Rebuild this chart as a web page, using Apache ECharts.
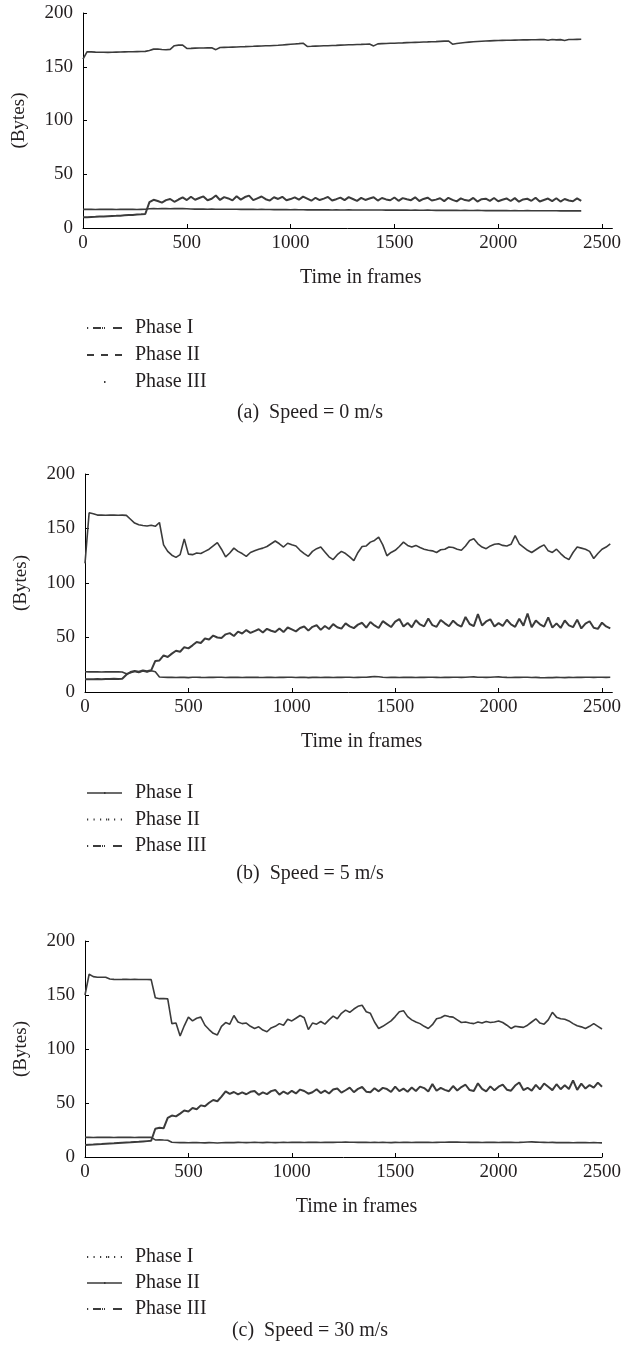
<!DOCTYPE html>
<html>
<head>
<meta charset="utf-8">
<title>Bytes per phase over time</title>
<script src="https://cdn.jsdelivr.net/npm/echarts@6.0.0/dist/echarts.min.js"></script>
<style>
  html, body { margin: 0; padding: 0; background: #fff; }
  #chart { width: 624px; height: 1352px; }
</style>
</head>
<body>
<div id="chart"></div>
<script>
// every series is sampled each STEP frames, starting at frame 0
const STEP = 20;
const phaseNames = ['Phase I', 'Phase II', 'Phase III'];
const xTicks = [0, 500, 1000, 1500, 2000, 2500];

// (a) Speed = 0 m/s, frames 0..2400
const speed0PhaseI = [
  157, 164, 163.8, 163.6, 163.5, 163.5, 163.4, 163.5, 163.6, 163.7, 163.8, 163.9, 164.0, 164.1, 164.2, 164.3,
  165.2, 166.4, 166.5, 166.1, 165.8, 166.2, 169.6, 170.1, 170.1,
  167.0, 167.1, 167.3, 167.4, 167.5, 167.6, 167.7, 165.9, 167.9, 168.0,
  168.1, 168.3, 168.4, 168.6, 168.7, 168.9, 169.0, 169.2, 169.3, 169.5,
  169.6, 169.8, 170.0, 170.3, 170.6, 170.9, 171.2, 171.5, 171.9,
  168.9, 169.0, 169.2, 169.3, 169.5, 169.6, 169.8, 169.9, 170.1, 170.2,
  170.4, 170.5, 170.7, 170.8, 171.0, 171.1, 169.4, 171.3, 171.5, 171.6,
  171.8, 171.9, 172.1, 172.2, 172.4, 172.5, 172.7, 172.8, 173.0, 173.1,
  173.3, 173.4, 173.6, 173.8, 174.0, 171.0, 171.6, 172.1, 172.5, 172.9,
  173.2, 173.5, 173.7, 173.9, 174.1, 174.3, 174.4, 174.5, 174.6, 174.7,
  174.8, 174.9, 175.0, 175.0, 175.1, 175.1, 175.2, 175.3, 174.6, 175.3,
  175.0, 175.2, 174.5, 175.3, 175.4, 175.5, 175.6
];
const speed0PhaseII = [
  17.3, 17.4, 17.3, 17.2, 17.3, 17.4, 17.3, 17.3, 17.2, 17.3, 17.4, 17.3, 17.3, 17.2, 17.3, 17.4,
  17.9, 18.0, 17.9, 18.0, 18.1, 17.9, 18.0, 18.1, 18.0, 17.9,
  17.7, 17.6, 17.7, 17.6, 17.5, 17.6, 17.5, 17.5, 17.4, 17.5,
  17.4, 17.4, 17.3, 17.4, 17.3, 17.3, 17.2, 17.3, 17.2, 17.2,
  17.1, 17.2, 17.1, 17.1, 17.0, 17.1, 17.0, 17.0, 16.9, 17.0,
  16.9, 16.9, 17.0, 16.9, 16.8, 16.9, 16.8, 16.8, 16.9, 16.8,
  16.8, 16.7, 16.8, 16.7, 16.7, 16.8, 16.7, 16.6, 16.7, 16.6,
  16.6, 16.7, 16.6, 16.5, 16.6, 16.5, 16.5, 16.6, 16.5, 16.4,
  16.5, 16.4, 16.4, 16.5, 16.4, 16.3, 16.4, 16.3, 16.3, 16.4,
  16.3, 16.2, 16.3, 16.2, 16.2, 16.3, 16.2, 16.1, 16.2, 16.1,
  16.1, 16.2, 16.1, 16.0, 16.1, 16.0, 16.0, 16.1, 16.0, 15.9,
  16.0, 15.9, 16.0, 15.9, 15.9
];
const speed0PhaseIII = [
  9.9, 10.1, 10.3, 10.4, 10.6, 10.8, 11.0, 11.2, 11.3, 11.5, 11.8, 12.0, 12.2, 12.5, 12.7, 13.0,
  24.0, 26.2, 25.1, 23.6, 25.9, 27.0, 24.4, 26.5, 28.4, 26.0,
  29.1, 26.3, 27.9, 29.4, 25.8, 27.2, 30.2, 26.1, 28.7, 27.5,
  25.7, 29.6, 26.4, 28.8, 30.1, 25.9, 27.6, 29.3, 26.8, 25.5,
  28.6, 27.0, 29.0, 25.8, 26.9, 28.5, 26.3, 29.2, 27.4, 25.4,
  28.1, 26.0, 27.3, 28.9, 25.6, 26.8, 28.3, 25.9, 28.7, 27.0,
  25.2, 28.0, 26.1, 27.4, 28.6, 25.5, 27.9, 26.6, 25.8, 28.4,
  25.3, 27.8, 26.7, 25.9, 28.5, 25.1, 27.0, 28.2, 25.6, 26.4,
  27.7, 25.0, 28.1, 26.2, 24.8, 27.6, 26.0, 25.4, 28.0, 24.6,
  26.8, 27.3, 25.2, 27.9, 24.9, 26.3, 27.5, 25.1, 27.8, 24.5,
  26.6, 27.2, 25.3, 28.1, 24.7, 26.1, 27.4, 25.0, 27.7, 24.6,
  27.0, 25.6, 24.9, 27.6, 25.2
];

// (b) Speed = 5 m/s, frames 0..2540
const speed5PhaseI = [
  118, 164.5, 163.5, 162.3, 162.3, 162.2, 162.3, 162.3, 162.2, 162.3, 162.0,
  158.5, 155, 153.5, 152.8, 152.3, 153, 152, 155.5, 135, 129, 125.5, 123.5, 126, 140.5, 126.5,
  126, 127.5, 127, 129, 131, 134, 137, 131, 124, 127.5,
  132, 129, 127, 124.5, 128, 129.5, 131, 132, 133.5, 136,
  138.5, 136, 133, 136.5, 135, 134, 130, 127, 124.5, 129,
  131.5, 133, 128.5, 124, 121.5, 126, 129, 127, 124, 120.5,
  128, 133.5, 134, 137.5, 139, 142, 135, 125, 128, 130,
  133.5, 137.5, 134.5, 133, 134.5, 132.5, 131, 130, 129.5, 128,
  130.5, 131, 133, 132.5, 131, 130, 134, 139, 140.5, 136,
  133, 131.5, 134, 135.5, 136, 134.5, 134, 135.5, 143.5, 136,
  133, 130, 128, 130.5, 133, 135, 129.5, 128, 131, 127,
  123.5, 121.5, 128, 133, 132, 131, 129, 122.5, 127, 131,
  133, 136
];
const speed5PhaseII = [
  11.6, 11.8, 11.7, 11.9, 11.8, 12.0, 11.9, 12.1, 12.0, 12.2,
  15.8, 18.3, 19.4, 18.6, 19.8, 19.0, 19.9, 28.5,
  29.0, 33.6, 32.1, 35.2, 37.8, 36.9, 41.1, 40.0, 42.8, 45.9,
  45.0, 49.1, 48.2, 51.8, 50.0, 49.6, 52.9, 54.0, 51.4, 55.4,
  53.7, 56.8, 54.2, 55.9, 57.6, 54.5, 58.0, 56.2, 55.1, 58.3,
  55.0, 59.2, 57.4, 55.6, 58.7, 60.1, 56.3, 59.8, 61.2, 57.0,
  60.5, 57.8, 62.3, 59.4, 58.1, 62.9, 60.2, 58.6, 61.8, 63.5,
  59.0, 64.2, 61.1, 58.7, 65.0, 62.3, 59.6, 64.6, 66.9, 60.0,
  63.4, 59.4, 65.8, 62.0, 60.2, 67.5, 61.3, 59.8, 66.1, 63.0,
  60.3, 65.4, 61.9, 59.9, 68.8, 62.4, 60.5, 71.5, 61.0, 64.7,
  66.7, 60.1, 63.2, 60.6, 66.3, 62.0, 59.8, 67.2, 60.9, 72.0,
  59.4, 65.5, 62.1, 60.0, 68.4, 59.1, 63.0, 58.8, 65.6, 61.2,
  59.5, 66.4, 58.3, 62.7, 64.9, 59.0, 57.9, 63.6, 60.2, 58.4
];
const speed5PhaseIII = [
  18.6, 18.5, 18.6, 18.5, 18.4, 18.5, 18.6, 18.5, 18.5, 18.4,
  16.8, 17.6, 18.8, 17.9, 19.2, 18.3, 19.5, 18.6,
  13.8, 13.5, 13.4, 13.6, 13.3, 13.5, 13.4, 13.2, 13.5, 13.6,
  13.4, 13.3, 13.5, 13.4, 13.6, 13.5, 13.3, 13.4, 13.5, 13.4,
  13.3, 13.5, 13.4, 13.6, 13.4, 13.3, 13.5, 13.4, 13.3, 13.5,
  13.4, 13.6, 13.5, 13.3, 13.4, 13.5, 13.2, 13.4, 13.5, 13.3,
  13.5, 13.4, 13.3, 13.5, 13.4, 13.6, 13.5, 13.3, 13.4, 13.5,
  13.6, 13.9, 14.2, 14.0, 13.5, 13.3, 13.4, 13.5, 13.3, 13.4,
  13.5, 13.4, 13.3, 13.5, 13.4, 13.6, 13.5, 13.4, 13.3, 13.5,
  13.4, 13.5, 13.6, 13.4, 13.5, 13.7, 13.9, 13.6, 13.5, 13.4,
  13.5, 13.7, 13.9, 13.6, 13.4, 13.3, 13.5, 13.4, 13.6, 13.5,
  13.3, 13.4, 13.2, 13.1, 13.3, 13.2, 13.4, 13.3, 13.2, 13.4,
  13.3, 13.5, 13.4, 13.6, 13.5, 13.4, 13.6, 13.5, 13.4, 13.5
];

// (c) Speed = 30 m/s, frames 0..2500
const speed30PhaseI = [
  11.1, 11.3, 11.5, 11.8, 12.0, 12.3, 12.5, 12.7, 13.0, 13.2, 13.4, 13.6, 13.9, 14.1, 14.4, 14.7, 15.0,
  26.2, 27.0, 26.6,
  36.3, 38.4, 37.6, 40.2, 43.0, 42.1, 45.3, 44.2, 47.8, 46.9,
  50.2, 52.8, 51.6, 55.9, 60.8, 58.4, 60.2, 57.9, 59.8, 58.1,
  60.4, 61.2, 57.6, 59.9, 58.2, 61.0, 62.1, 57.8, 60.6, 58.5,
  61.3, 58.9, 62.4, 61.1, 58.6, 60.0, 62.7, 59.2, 61.4, 58.8,
  62.5, 63.4, 59.6, 61.8, 64.2, 60.0, 63.1, 64.8, 60.5, 59.9,
  63.6, 60.8, 64.0, 62.9, 60.2, 65.1, 61.0, 63.3, 60.4, 64.4,
  61.1, 65.2, 63.8, 60.6, 67.5, 61.3, 64.0, 62.2, 60.9, 65.7,
  61.6, 64.8, 66.9, 62.0, 61.2, 68.2, 63.1, 60.8, 65.4, 61.7,
  65.1, 67.0, 62.3, 61.4, 66.2, 69.0, 62.0, 64.1, 61.5, 66.8,
  62.6, 68.1, 65.0, 61.9, 67.4, 62.8, 66.5, 63.0, 71.0, 62.2,
  67.9, 63.4, 66.6, 64.2, 68.9, 65.0
];
const speed30PhaseII = [
  150, 169.2, 167, 166.5, 166.4, 166.5, 164.8,
  164.5, 164.4, 164.5, 164.6, 164.4, 164.5, 164.4, 164.3, 164.4, 164.2,
  147.5, 146.6, 146.8, 146.4,
  123.5, 124, 112, 121.5, 129.5, 126, 128.5, 129.5, 122, 118,
  114.5, 113, 121, 124.5, 123, 131, 125, 123.5, 124, 121,
  119, 120.5, 117.5, 116, 119.5, 121, 123.5, 122, 127.5, 126,
  128.5, 131, 129, 118, 124, 123, 125.5, 123, 127, 130.5,
  128, 133, 136, 134, 137, 139.5, 140.5, 134.5, 133, 125,
  119, 121, 123.5, 126, 130, 134.5, 135.5, 130, 127, 125,
  123.5, 121, 119, 122.5, 128, 129, 131, 130, 129.5, 127,
  124.5, 125, 124, 123.5, 125, 124, 125.5, 124.5, 125, 126,
  124.5, 122, 119, 121, 120.5, 120, 122, 125, 128, 124,
  123, 127, 134, 129.5, 128, 127.5, 126, 123.5, 121.5, 120.5,
  119, 121, 123.5, 121, 118.5
];
const speed30PhaseIII = [
  18.2, 18.2, 18.1, 18.2, 18.3, 18.2, 18.2, 18.1, 18.2, 18.3, 18.2, 18.2, 18.1, 18.2, 18.2, 18.3, 18.2,
  15.8, 16.0, 15.7, 15.5,
  13.6, 13.4, 13.3, 13.4, 13.2, 13.3, 13.4, 13.2, 13.1, 13.3,
  13.2, 13.0, 13.2, 13.3, 13.4, 13.3, 13.5, 13.4, 13.3, 13.4,
  13.5, 13.4, 13.3, 13.5, 13.4, 13.3, 13.4, 13.5, 13.4, 13.5,
  13.6, 13.5, 13.4, 13.5, 13.6, 13.5, 13.4, 13.5, 13.6, 13.5,
  13.6, 13.7, 13.8, 13.7, 13.6, 13.5, 13.6, 13.5, 13.4, 13.5,
  13.4, 13.5, 13.4, 13.3, 13.5, 13.4, 13.6, 13.5, 13.4, 13.5,
  13.5, 13.6, 13.5, 13.4, 13.5, 13.6, 13.7, 13.8, 13.9, 13.8,
  13.7, 13.6, 13.5, 13.6, 13.5, 13.4, 13.5, 13.6, 13.5, 13.4,
  13.5, 13.6, 13.5, 13.4, 13.5, 13.7, 13.9, 14.0, 13.8, 13.6,
  13.5, 13.4, 13.5, 13.3, 13.4, 13.3, 13.4, 13.2, 13.3, 13.4,
  13.3, 13.2, 13.3, 13.2, 13.1
];

const SERIF = "'Liberation Serif', 'Times New Roman', serif";
const TEXT = '#231f20';
const INK = '#3b3b3b';

// legend line patterns (35 x 2 box)
const ICON = {
  dashDot: 'path://M0,0h1.2v2h-1.2z M6,0h8v2h-8z M15,0h1v2h-1z M17,0h1v2h-1z M26,0h9v2h-9z',
  dashed: 'path://M0,0h7v2h-7z M14,0h7v2h-7z M28,0h7v2h-7z',
  dot: 'path://M0,0.9h0.01v0.01h-0.01z M17,0h1.5v2h-1.5z M34.99,0.9h0.01v0.01h-0.01z',
  solid: 'path://M0,0.25h35v1.5h-35z M17,0h1.5v2h-1.5z',
  dotted: 'path://M0,0h1.2v2h-1.2z M6.5,0h1.2v2h-1.2z M13,0h1.2v2h-1.2z M19,0h1.2v2h-1.2z M21,0h1.2v2h-1.2z M27,0h1.2v2h-1.2z M33.8,0h1.2v2h-1.2z'
};

function toPairs(values) {
  return values.map((v, i) => [i * STEP, v]);
}

function xAxis(grid, max) {
  return {
    type: 'value', gridIndex: grid, min: 0, max: max, interval: 500,
    name: 'Time in frames', nameLocation: 'middle', nameGap: 40,
    nameTextStyle: { fontFamily: SERIF, fontSize: 20, color: TEXT, padding: [0, 0, 0, 26] },
    axisLine: { show: true, lineStyle: { color: '#000', width: 1 } },
    axisTick: { show: true, inside: true, length: 4, customValues: xTicks, lineStyle: { color: '#000' } },
    axisLabel: {
      customValues: xTicks, margin: 6, fontFamily: SERIF, fontSize: 19, color: TEXT,
      formatter: v => String(v)
    },
    splitLine: { show: false }
  };
}

function yAxis(grid) {
  return {
    type: 'value', gridIndex: grid, min: 0, max: 200, interval: 50,
    name: '(Bytes)', nameLocation: 'middle', nameGap: 54,
    nameTextStyle: { fontFamily: SERIF, fontSize: 19, color: TEXT },
    axisLine: { show: true, lineStyle: { color: '#000', width: 1 } },
    axisTick: { show: true, inside: true, length: 4, lineStyle: { color: '#000' } },
    axisLabel: { margin: 10, fontFamily: SERIF, fontSize: 19, color: TEXT },
    splitLine: { show: false }
  };
}

function legend(top, gap, icons) {
  return {
    orient: 'vertical', left: 82, top: top,
    itemWidth: 35, itemHeight: 2, itemGap: gap,
    selectedMode: false,
    itemStyle: { color: INK, borderWidth: 0 },
    textStyle: { fontFamily: SERIF, fontSize: 20, color: TEXT, lineHeight: 20, padding: [0, 0, 0, 8] },
    data: phaseNames.map((n, i) => ({ name: n, icon: icons[i] }))
  };
}

function line(name, grid, values, width) {
  return {
    type: 'line', name: name, xAxisIndex: grid, yAxisIndex: grid,
    data: toPairs(values),
    symbol: 'none', showSymbol: false, silent: true,
    color: INK,
    itemStyle: { color: INK },
    lineStyle: { color: INK, width: width || 1.6 }
  };
}

function caption(text, y) {
  return {
    type: 'text', x: 310, y: y,
    style: { text: text, fontFamily: SERIF, fontSize: 20, fill: TEXT, align: 'center', verticalAlign: 'middle' }
  };
}

let myChart = echarts.init(document.getElementById('chart'));
myChart.setOption({
  animation: false,
  backgroundColor: '#fff',
  grid: [
    { left: 83, top: 13, width: 530, height: 215 },
    { left: 85, top: 474, width: 531, height: 218 },
    { left: 85, top: 941, width: 520, height: 216 }
  ],
  xAxis: [xAxis(0, 2550), xAxis(1, 2550), xAxis(2, 2500)],
  yAxis: [yAxis(0), yAxis(1), yAxis(2)],
  legend: [
    legend(313, 7, [ICON.dashDot, ICON.dashed, ICON.dot]),
    legend(778, 6.5, [ICON.solid, ICON.dotted, ICON.dashDot]),
    legend(1242, 6, [ICON.dotted, ICON.solid, ICON.dashDot])
  ],
  graphic: [
    caption('(a)  Speed = 0 m/s', 413),
    caption('(b)  Speed = 5 m/s', 874),
    caption('(c)  Speed = 30 m/s', 1331)
  ],
  series: [
    line('Phase I', 0, speed0PhaseI),
    line('Phase II', 0, speed0PhaseII),
    line('Phase III', 0, speed0PhaseIII, 2),
    line('Phase I', 1, speed5PhaseI),
    line('Phase II', 1, speed5PhaseII, 2),
    line('Phase III', 1, speed5PhaseIII),
    line('Phase I', 2, speed30PhaseI, 2),
    line('Phase II', 2, speed30PhaseII),
    line('Phase III', 2, speed30PhaseIII)
  ]
});
</script>
</body>
</html>
